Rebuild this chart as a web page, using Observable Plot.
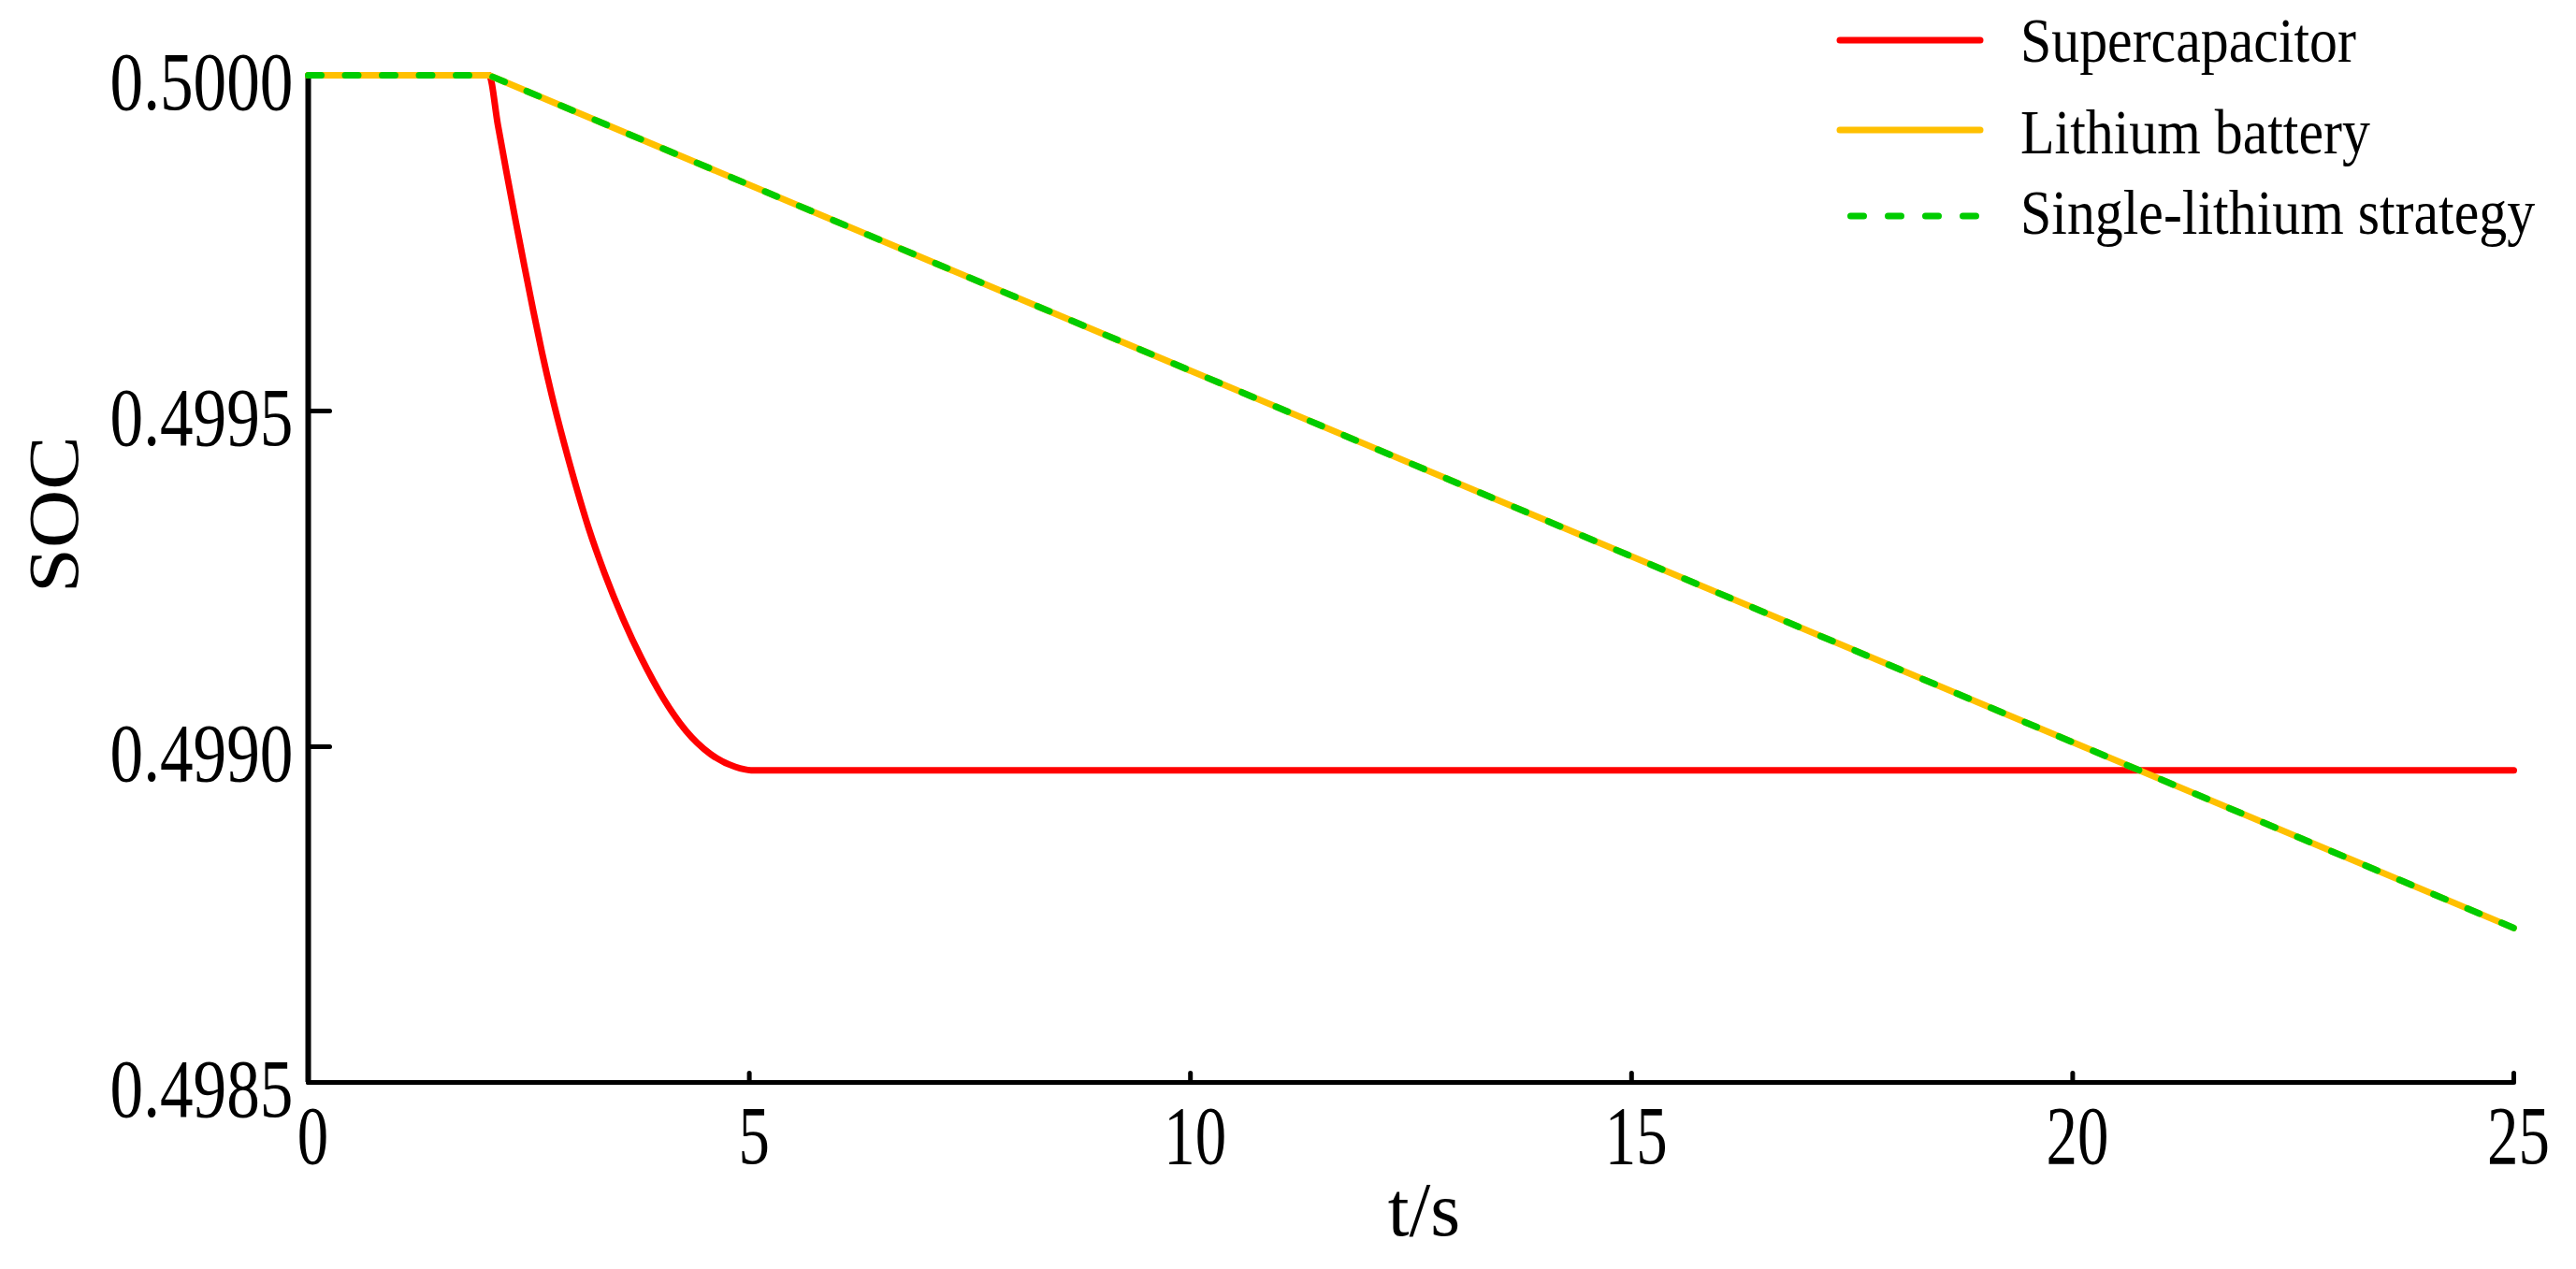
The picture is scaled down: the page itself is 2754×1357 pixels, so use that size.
<!DOCTYPE html>
<html>
<head>
<meta charset="utf-8">
<script src="https://cdn.jsdelivr.net/npm/d3@7"></script>
<script src="https://cdn.jsdelivr.net/npm/@observablehq/plot@0.6"></script>
<style>
  body { margin: 0; background: #fff; }
  #chart { position: relative; width: 2754px; height: 1357px; }
  #chart svg { display: block; }
  #legend { position: absolute; left: 0; top: 0; pointer-events: none; }
</style>
</head>
<body>
<div id="chart"></div>
<script>
// ---- data ----
const seriesNames = ["Supercapacitor", "Lithium battery", "Single-lithium strategy"];
const seriesColors = ["#ff0000", "#ffc000", "#00cc00"];

const superT   = [0, 2.05, 2.15, 2.25, 2.35, 2.45, 2.55, 2.65, 2.76, 2.9, 3.04, 3.18, 3.36, 3.57, 3.78, 4.03, 4.28, 4.56, 4.84, 5.02, 25];
const superSOC = [0.5, 0.5, 0.499926, 0.499854, 0.499784, 0.499716, 0.49965, 0.499587, 0.499524, 0.499452, 0.499386, 0.499325, 0.499258, 0.49919, 0.499131, 0.499071, 0.499024, 0.498989, 0.49897, 0.498965, 0.498965];

const lithiumT   = [0, 2.05, 25];
const lithiumSOC = [0.5, 0.5, 0.49873];

const singleT   = [0, 2.05, 25];
const singleSOC = [0.5, 0.5, 0.49873];

const xTicks = [0, 5, 10, 15, 20, 25];
const xTickLabels = ["0", "5", "10", "15", "20", "25"];
const yTicks = [0.4985, 0.4990, 0.4995, 0.5000];
const yTickLabels = ["0.4985", "0.4990", "0.4995", "0.5000"];
const xLabel = "t/s";
const yLabel = "SOC";

// ---- build ----
const zip = (t, v) => t.map((d, i) => ({t: d, v: v[i]}));
const superData = zip(superT, superSOC);
const lithiumData = zip(lithiumT, lithiumSOC);
const singleData = zip(singleT, singleSOC);

const FONT = "'Liberation Serif', 'Times New Roman', serif";
const tickShape = {draw(context, l) { context.moveTo(0, 0); context.lineTo(0, -l); }};

const plot = Plot.plot({
  width: 2754,
  height: 1357,
  marginLeft: 329,
  marginRight: 67,
  marginTop: 80,
  marginBottom: 200,
  x: {domain: [0, 25], axis: null},
  y: {domain: [0.4985, 0.5], axis: null},
  style: {fontFamily: FONT, background: "white", overflow: "visible", color: "black"},
  marks: [
    // axis lines
    Plot.ruleX([0], {y1: 0.4985, y2: 0.5, stroke: "black", strokeWidth: 6}),
    Plot.ruleY([0.4985], {x1: 0, x2: 25, stroke: "black", strokeWidth: 5}),
    // inward ticks
    Plot.vector(yTicks, {x: 0, y: d => d, length: 23, rotate: 90, anchor: "start", shape: tickShape, stroke: "black", strokeWidth: 5}),
    Plot.vector(xTicks, {x: d => d, y: 0.4985, length: 10, rotate: 0, anchor: "start", shape: tickShape, stroke: "black", strokeWidth: 5}),
    // tick labels
    Plot.text(yTicks, {x: 0, y: d => d, text: (d, i) => yTickLabels[i], textAnchor: "end", lineAnchor: "middle", dx: -16, dy: 8, fontSize: 88, fill: "black"}),
    Plot.text(xTicks, {x: d => d, y: 0.4985, text: (d, i) => xTickLabels[i], textAnchor: "middle", lineAnchor: "middle", dx: 5, dy: 58, fontSize: 88, fill: "black"}),
    // axis titles
    Plot.text([yLabel], {frameAnchor: "left", text: d => d, rotate: -90, textAnchor: "middle", lineAnchor: "middle", dx: -271, dy: -69, fontSize: 77, fill: "black"}),
    Plot.text([xLabel], {frameAnchor: "bottom", text: d => d, textAnchor: "middle", lineAnchor: "middle", dx: 14, dy: 137, fontSize: 82, fill: "black"}),
    // series
    Plot.line(superData, {x: "t", y: "v", stroke: seriesColors[0], strokeWidth: 7, strokeLinejoin: "round", strokeLinecap: "round", curve: "monotone-x"}),
    Plot.line(lithiumData, {x: "t", y: "v", stroke: seriesColors[1], strokeWidth: 7, strokeLinejoin: "round"}),
    Plot.line(singleData, {x: "t", y: "v", stroke: seriesColors[2], strokeWidth: 7, strokeDasharray: "14,25.5", strokeLinecap: "round", strokeLinejoin: "round"})
  ]
});

const chart = document.getElementById("chart");
chart.appendChild(plot);

// condense the serif text like the reference typeface
function squeezeText(el, s) {
  const w = el.getComputedTextLength();
  if (w > 0) {
    el.setAttribute("textLength", (w * s).toFixed(1));
    el.setAttribute("lengthAdjust", "spacingAndGlyphs");
  }
}
plot.querySelectorAll("text").forEach(t => {
  const c = t.textContent;
  if (yTickLabels.includes(c)) squeezeText(t, 0.81);
  else if (xTickLabels.includes(c)) squeezeText(t, 0.76);
  else if (c === yLabel) squeezeText(t, 1.12);
});

// ---- legend (top right, overlaid) ----
const legendLineY = [43, 139, 231];
const legendTextY = [66, 164, 250];
const legend = d3.select(chart).append("svg")
  .attr("id", "legend")
  .attr("width", 2754)
  .attr("height", 300)
  .style("font-family", FONT);

seriesNames.forEach((name, i) => {
  const dashed = i === 2;
  legend.append("line")
    .attr("x1", dashed ? 1978.5 : 1967)
    .attr("x2", dashed ? 2113.5 : 2117)
    .attr("y1", legendLineY[i])
    .attr("y2", legendLineY[i])
    .attr("stroke", seriesColors[i])
    .attr("stroke-width", 7)
    .attr("stroke-linecap", "round")
    .attr("stroke-dasharray", dashed ? "14,26" : null);
  legend.append("text")
    .attr("transform", `translate(2160,${legendTextY[i]}) scale(0.88,1)`)
    .attr("font-size", 68)
    .attr("fill", "black")
    .text(name);
});
</script>
</body>
</html>
